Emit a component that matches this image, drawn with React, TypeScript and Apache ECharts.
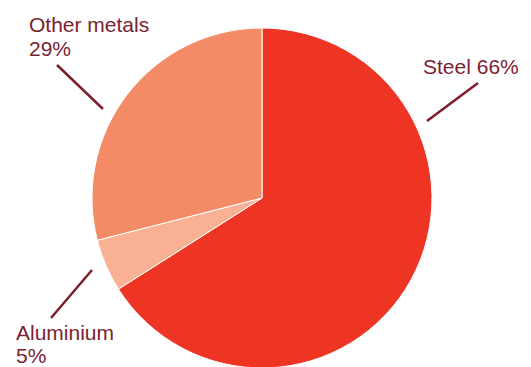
import React, { useEffect, useRef } from "react";
import * as echarts from "echarts";

const categories = ["Steel", "Aluminium", "Other metals"];
const values = [66, 5, 29];
const colors = ["#EE3524", "#F9B093", "#F48B67"];

// label layout per slice: text anchor, line height and detached leader line
const labelPlacement = [
  { x: 423, y: 54, lh: 24, line: [[427, 121], [478, 83]] },
  { x: 16, y: 321, lh: 23, line: [[92, 270], [51, 318]] },
  { x: 29, y: 12, lh: 24, line: [[103, 109], [57, 65]] },
];

export default function App() {
  const ref = useRef<HTMLDivElement>(null);
  useEffect(() => {
    document.body.style.margin = "0";
    const chart = echarts.init(ref.current!, null, { renderer: "svg" });
    chart.setOption({
      animation: false,
      backgroundColor: "#ffffff",
      series: [
        {
          type: "pie",
          center: [262, 198],
          radius: 170,
          startAngle: 90,
          clockwise: true,
          avoidLabelOverlap: false,
          itemStyle: { borderColor: "#ffffff", borderWidth: 1 },
          emphasis: { disabled: true },
          label: {
            show: true,
            position: "outside",
            color: "#7B2230",
            fontFamily: "Liberation Sans, Arial, Helvetica, sans-serif",
            fontSize: 21,
            lineHeight: 24,
            align: "left",
            verticalAlign: "top",
            formatter: (p: any) =>
              p.dataIndex === 0 ? `${p.name} ${p.value}%` : `${p.name}\n${p.value}%`,
          },
          labelLine: {
            show: true,
            lineStyle: { color: "#7B1F2B", width: 2.5 },
          },
          labelLayout: (params: any) => {
            const pl = labelPlacement[params.dataIndex];
            const [a, b] = pl.line;
            return {
              x: pl.x,
              y: pl.y,
              align: "left",
              verticalAlign: "top",
              labelLinePoints: [a, [(a[0] + b[0]) / 2, (a[1] + b[1]) / 2], b],
            };
          },
          data: categories.map((name, i) => ({
            name,
            value: values[i],
            itemStyle: { color: colors[i] },
            label: { lineHeight: labelPlacement[i].lh },
          })),
        },
      ],
    });
    return () => chart.dispose();
  }, []);
  return <div ref={ref} style={{ width: 531, height: 367 }} />;
}
